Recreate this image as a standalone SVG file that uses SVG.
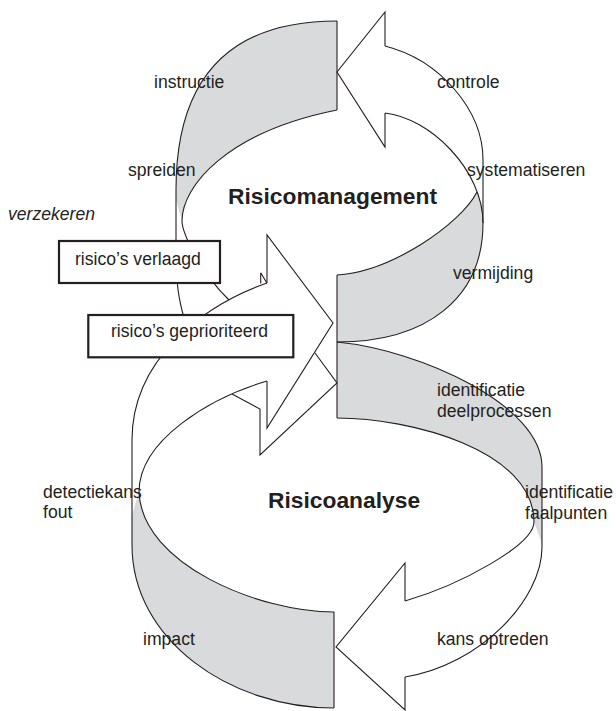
<svg xmlns="http://www.w3.org/2000/svg" width="616" height="711" viewBox="0 0 616 711">
<style>
.bg{fill:#ffffff}
.gray{fill:#d9dadc;stroke:none}
.ln{fill:none;stroke:#231f20;stroke-width:1.1;stroke-linejoin:miter}
.box{fill:#ffffff;stroke:#231f20;stroke-width:2.2}
.t{font-family:"Liberation Sans",Arial,sans-serif;font-size:17.6px;fill:#231f20}
.ti{font-style:italic}
.tb{font-family:"Liberation Sans",Arial,sans-serif;font-size:22.8px;font-weight:bold;fill:#231f20}
</style>
<rect class="bg" x="0" y="0" width="616" height="711"/>
<g id="bands">
<path class="gray" d="M337,21 C227,21 176,80 176,190 L176,200 L182,221 C182,186 227,132 337,110 Z"/>
<path class="gray" d="M477,192 C460,225 390,272 337,275 L337,342 C427,342 483,298 483,223 C483,210 481,200 477,192 Z"/>
<path class="gray" d="M337,342 C420,350 542,405 542,467 L542,547 L540,538 L534,522 C534,450 410,418 337,418 Z"/>
<path class="gray" d="M139,492 C142,565 260,612 334,612 L334,708 C230,708 132,640 132,545 L132,515 Z"/>
</g>
<g id="connectors">
<path class="ln" d="M385,46 L385,12 L337,72 L385,147 L385,113"/>
<path class="ln" d="M337,21 L337,110"/>
<path class="ln" d="M337,21 C227,21 176,80 176,190 L176,250 C176,285 179,300 184,318"/>
<path class="ln" d="M337,110 C227,132 182,186 182,221 C182,232 200,272 229,300"/>
<path class="ln" d="M385,46 C440,60 483,110 483,160 L483,223"/>
<path class="ln" d="M385,113 C430,118 483,170 483,223 C483,298 427,342 337,342"/>
<path class="ln" d="M477,192 C460,225 390,272 337,275"/>
<path class="ln" d="M337,275 L337,418"/>
<path class="ln" d="M337,342 C420,350 542,405 542,467 L542,547 C542,600 480,665 405,677"/>
<path class="ln" d="M337,418 C410,418 534,450 534,522 C534,545 460,585 405,601"/>
<path class="ln" d="M405,601 L405,563 L336,647 L405,710 L405,677"/>
<path class="ln" d="M334,612 L334,708"/>
<path class="ln" d="M267,381 C210,398 139,440 139,492 C142,565 260,612 334,612"/>
<path class="ln" d="M267,283 C202,306 132,360 132,440 L132,545 C132,640 230,708 334,708"/>
<path class="ln" d="M267,283 L267,235 L333,323 L267,428 L267,381"/>
<path class="ln" d="M315,353 L337,383 L260,455 L260,409 L232,394"/>
<path class="ln" d="M260.7,272.7 L260.7,283.5 M260.7,272.7 L267,283.3"/>
</g>
<g id="node-verlaagd">
<rect class="box" x="59" y="241" width="161" height="42"/>
<text class="t" x="75" y="265">risico’s verlaagd</text>
</g>
<g id="node-geprioriteerd">
<rect class="box" x="88.3" y="315" width="205" height="42.3"/>
<text class="t" x="111" y="337">risico’s geprioriteerd</text>
</g>
<g id="labels">
<text class="tb" x="228" y="204">Risicomanagement</text>
<text class="tb" x="268" y="508">Risicoanalyse</text>
<text class="t" x="154" y="88">instructie</text>
<text class="t" x="437" y="88">controle</text>
<text class="t" x="128" y="176">spreiden</text>
<text class="t ti" x="8" y="220">verzekeren</text>
<text class="t" x="467" y="176">systematiseren</text>
<text class="t" x="453" y="279">vermijding</text>
<text class="t" x="437" y="396">identificatie</text>
<text class="t" x="437" y="417">deelprocessen</text>
<text class="t" x="525" y="498">identificatie</text>
<text class="t" x="525" y="519">faalpunten</text>
<text class="t" x="43" y="498">detectiekans</text>
<text class="t" x="43" y="518">fout</text>
<text class="t" x="143" y="645">impact</text>
<text class="t" x="437" y="645">kans optreden</text>
</g>
</svg>
